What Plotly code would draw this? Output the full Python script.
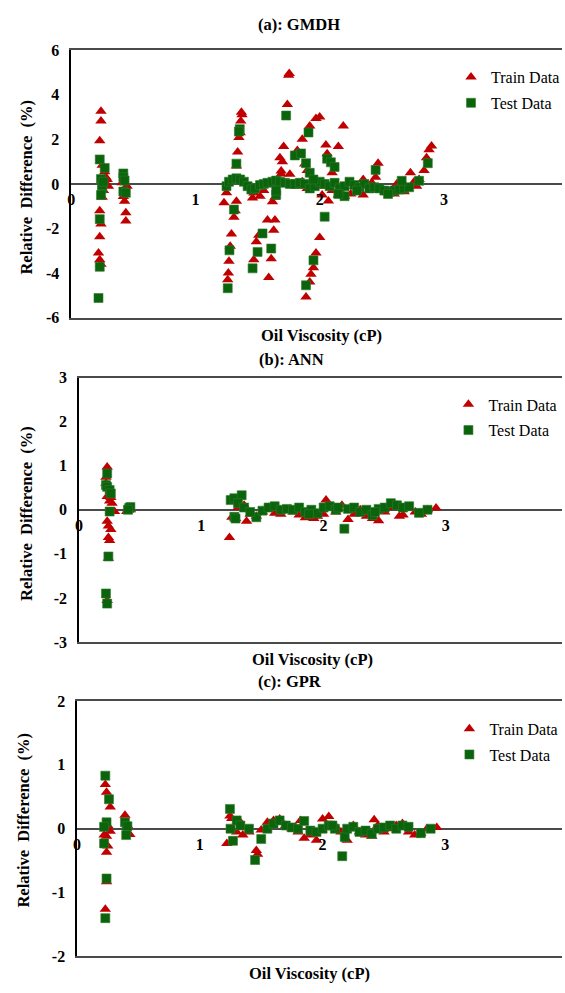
import plotly.graph_objects as go

# ---------------------------------------------------------------------------
# Relative difference (%) vs. oil viscosity (cP) for three models
# ---------------------------------------------------------------------------

# (a) GMDH
gmdh_train_x = [0.24, 0.24, 0.23, 0.25, 0.27, 0.29, 0.30, 0.26, 0.23, 0.24, 0.23, 0.22, 0.23, 0.24, 0.25, 0.28,
                0.42, 0.43, 0.44, 0.44, 0.41, 0.43, 0.45,
                1.23, 1.25, 1.26, 1.265, 1.27, 1.29, 1.31, 1.33, 1.34, 1.35, 1.365, 1.37, 1.375, 1.36, 1.33, 1.32, 1.28,
                1.46, 1.47,
                1.47, 1.49, 1.51, 1.58, 1.59, 1.61, 1.63, 1.64, 1.62, 1.64, 1.69, 1.69, 1.71, 1.68, 1.74, 1.75, 1.755,
                1.76, 1.70, 1.55, 1.52,
                1.86, 1.92, 1.97, 2.00, 1.89, 1.92, 1.93, 1.95, 1.97, 2.00, 2.05, 2.06, 2.07, 2.15, 2.19, 1.82, 1.88,
                1.90, 2.02, 2.10,
                1.78, 1.82, 1.86, 1.90, 1.95, 2.00, 2.05, 2.10, 2.15, 2.20, 2.25, 2.30, 2.35, 2.40, 2.45, 2.47, 2.50,
                2.55, 2.60, 2.65, 2.70, 2.73, 2.76, 2.80, 2.84, 2.86, 2.88, 2.90, 2.35, 2.28, 2.42, 2.62, 2.68, 2.78]
gmdh_train_y = [3.26, 2.82, 1.94, 0.84, 0.55, 0.20, -0.10, -0.30, -1.20, -1.80, -2.37, -3.10, -3.40, -3.60, -0.60, 0.30,
                -0.56, -0.78, -1.29, -1.66, 0.05, -0.20, -0.10,
                -0.85, -0.40, -4.30, -4.00, -3.47, -2.25, -1.50, -0.78, 1.43, 2.08, 2.82, 3.22, 3.10, 2.30, 0.80, -1.20,
                -2.80,
                -0.63, -0.41,
                -3.40, -2.60, -2.30, -1.62, -4.20, -3.36, -2.08, -1.62, -0.80, -0.60, 0.58, 0.45, 1.68, 1.18, 3.56, 4.88,
                4.96, 0.43, 1.00, -0.30, -0.55,
                2.00, 2.60, 2.94, 3.00, -5.07, -4.40, -4.05, -3.76, -3.10, -2.40, 1.75, 1.36, -0.77, 1.68, 2.60, 1.50,
                0.90, 0.60, -0.50, 0.50,
                0.00, -0.10, 0.10, -0.20, 0.20, -0.10, 0.00, -0.30, -0.50, -0.55, -0.45, -0.35, -0.50, -0.30, 0.30,
                0.93, -0.20, -0.40, -0.45, -0.30, -0.15, 0.50, 0.10, 0.20, 0.60, 1.17, 1.53, 1.70, 0.20, -0.10, 0.05,
                0.00, -0.35, -0.10]
gmdh_test_x = [0.23, 0.27, 0.24, 0.25, 0.24, 0.25, 0.23, 0.23, 0.22, 0.26,
               0.42, 0.42, 0.43, 0.42, 0.44,
               1.26, 1.274, 1.31, 1.33, 1.357, 1.35,
               1.25, 1.27, 1.30, 1.33, 1.36, 1.39, 1.42, 1.45, 1.48, 1.52, 1.55, 1.58, 1.62, 1.65, 1.68, 1.72, 1.76,
               1.80, 1.84, 1.88, 1.92, 1.96, 2.00, 2.04, 2.08, 2.12, 2.16, 2.20, 2.24, 2.28, 2.32, 2.36, 2.40, 2.44,
               2.48, 2.52, 2.56, 2.60, 2.64, 2.68, 2.72, 2.20, 2.15, 2.30, 2.55,
               1.46, 1.50, 1.54, 1.61, 1.65, 1.65, 1.73,
               1.80, 1.85, 1.89, 1.91, 1.89, 1.95, 2.04, 2.06, 2.09, 2.12, 1.92, 1.95,
               2.45, 2.66, 2.80, 2.87]
gmdh_test_y = [1.10, 0.72, 0.22, -0.20, -0.50, -0.05, -1.58, -3.72, -5.12, 0.10,
               0.47, 0.30, 0.15, -0.34, -0.40,
               -4.68, -2.98, -1.15, 0.91, 2.46, 2.35,
               -0.10, 0.10, 0.20, 0.25, 0.20, 0.10, -0.10, -0.25, -0.20, -0.05, 0.00, 0.05, 0.10, 0.15, 0.10, 0.05,
               0.00, 0.00, 0.05, 0.00, -0.20, -0.10, 0.10, 0.00, -0.10, 0.05, -0.20, -0.10, 0.10, -0.05, -0.15, 0.00,
               -0.20, -0.15, -0.20, -0.30, -0.35, -0.30, -0.25, -0.20, -0.15, -0.55, -0.45, -0.30, -0.45,
               -3.79, -3.05, -2.22, -2.90, -0.48, -0.30, 3.07,
               1.28, 1.37, 0.93, 2.31, -4.55, -3.43, -1.47, 1.13, 0.97, 0.76, 0.50, 0.20,
               0.63, 0.14, 0.14, 0.93]

# (b) ANN
ann_train_x = [0.23, 0.22, 0.23, 0.25, 0.26, 0.29, 0.23, 0.24, 0.26, 0.24, 0.25, 0.24, 0.23, 0.22, 0.27,
               0.39, 0.42, 0.40,
               1.23, 1.37, 1.25, 1.28, 1.30, 1.35, 1.40, 1.45, 1.50, 1.55, 1.60, 1.65, 1.70, 1.75, 1.80, 1.85, 1.90,
               1.95, 2.02, 2.05, 2.10, 2.15, 2.20, 2.25, 2.30, 2.35, 2.40, 2.45, 2.50, 2.55, 2.60, 2.65, 2.70, 2.75,
               2.80, 2.85, 2.92, 2.00, 1.92, 2.38, 2.62]
ann_train_y = [0.97, 0.74, 0.30, 0.20, 0.28, -0.04, -0.26, -0.37, -0.45, -0.63, -0.70, -1.10, -2.06, 0.60, 0.15,
               -0.04, 0.00, 0.02,
               -0.63, -0.26, -0.17, -0.20, 0.05, 0.10, -0.10, -0.15, -0.05, 0.05, -0.08, -0.10, 0.00, -0.05, -0.12,
               -0.18, -0.10, -0.15, 0.22, 0.05, -0.05, 0.10, -0.22, -0.10, 0.00, -0.15, -0.20, -0.25, -0.05, 0.05,
               0.10, -0.12, 0.05, -0.05, -0.10, 0.00, 0.04, -0.10, -0.20, -0.05, -0.15]
ann_test_x = [0.23, 0.22, 0.23, 0.25, 0.26, 0.25, 0.24, 0.22, 0.23,
              0.41, 0.42, 0.40,
              1.24, 1.27, 1.33, 1.30, 1.27, 1.28, 1.45, 1.35, 1.40, 1.50, 1.55, 1.60, 1.65, 1.70, 1.75, 1.80, 1.85,
              1.90, 1.95, 2.00, 2.05, 2.10, 2.17, 2.20, 2.25, 2.30, 2.35, 2.40, 2.45, 2.50, 2.55, 2.60, 2.65, 2.70,
              2.78, 2.85, 1.88, 2.42, 2.12]
ann_test_y = [0.82, 0.56, 0.52, 0.45, 0.37, -0.04, -1.06, -1.90, -2.13,
              0.04, 0.06, 0.00,
              0.22, 0.26, 0.33, 0.15, -0.16, -0.20, -0.17, 0.05, -0.05, -0.02, 0.05, 0.08, 0.00, 0.02, 0.00, 0.05,
              -0.05, 0.00, -0.08, 0.05, 0.08, 0.00, -0.43, 0.02, 0.05, -0.05, 0.00, -0.12, 0.02, 0.05, 0.15, 0.10,
              0.05, 0.08, -0.07, 0.00, -0.10, -0.05, 0.05]

# (c) GPR
gpr_train_x = [0.23, 0.24, 0.27, 0.27, 0.24, 0.25, 0.24, 0.24, 0.23, 0.22, 0.23, 0.25,
               0.39, 0.43, 0.41,
               1.245, 1.26, 1.22, 1.32, 1.46, 1.47, 1.30, 1.35, 1.40, 1.50, 1.55, 1.60, 1.65, 1.70, 1.75, 1.80, 1.82,
               1.85, 1.90, 1.95, 2.00, 2.05, 2.10, 2.15, 2.20, 2.25, 2.30, 2.35, 2.40, 2.42, 2.45, 2.50, 2.55, 2.60,
               2.65, 2.70, 2.75, 2.80, 2.85, 2.93]
gpr_train_y = [0.69, 0.57, 0.34, -0.04, -0.12, -0.27, -0.37, -0.83, -1.26, -0.10, 0.00, 0.05,
               0.21, -0.09, 0.05,
               0.20, 0.16, -0.23, 0.13, -0.34, -0.40, -0.05, -0.10, -0.05, -0.02, 0.10, 0.13, 0.15, 0.05, 0.00, -0.05,
               0.13, -0.15, -0.10, -0.18, 0.15, 0.19, 0.05, -0.05, -0.18, 0.05, -0.05, -0.10, -0.12, 0.14, 0.05,
               -0.05, 0.00, 0.05, 0.08, -0.05, -0.10, -0.07, 0.00, 0.02]
gpr_test_x = [0.23, 0.26, 0.24, 0.22, 0.22, 0.24, 0.23,
              0.39, 0.41, 0.40,
              1.245, 1.27, 1.25, 1.30, 1.33, 1.45, 1.50, 1.55, 1.60, 1.65, 1.70, 1.75, 1.80, 1.85, 1.90, 1.95, 2.00,
              2.05, 2.10, 2.16, 2.18, 2.20, 2.25, 2.30, 2.35, 2.40, 2.45, 2.50, 2.55, 2.60, 2.65, 2.70, 2.80, 2.88,
              1.40, 2.08]
gpr_test_y = [0.83, 0.46, 0.10, 0.03, -0.23, -0.78, -1.40,
              0.10, 0.04, -0.10,
              0.31, -0.19, 0.00, 0.13, 0.05, -0.49, -0.16, 0.00, 0.08, 0.13, 0.05, 0.02, 0.00, 0.12, -0.03, -0.05,
              0.00, 0.05, 0.00, -0.43, -0.13, 0.00, 0.03, -0.05, -0.03, -0.08, 0.00, 0.02, 0.05, 0.00, 0.05, 0.03,
              -0.07, 0.00, 0.00, 0.05]

panel_titles = ["(a): GMDH", "(b): ANN", "(c): GPR"]
y_tick_values = [[-6, -4, -2, 0, 2, 4, 6], [-3, -2, -1, 0, 1, 2, 3], [-2, -1, 0, 1, 2]]
x_ticks = [0, 1, 2, 3]
x_title = "Oil Viscosity (cP)"
y_title = "Relative  Difference  (%)"
series_names = ["Train Data", "Test Data"]

# ---------------------------------------------------------------------------
# Page geometry (pixels, origin top-left)
# ---------------------------------------------------------------------------
W, H = 565, 993
X_MAX = 3.95
SERIF = "Liberation Serif"
FS = 16.5
RED = "#C00000"
GREEN = "#0B640B"
FRAME = "#4a4a4a"

# left edge, top, bottom of each plotting area; title / axis-title / legend anchors
boxes = [
    dict(left=68, top=43, bottom=315, title=(299, 17), xt=(321, 333), yt=(23, 182), leg=(453, 53)),
    dict(left=76, top=376, bottom=645, title=(291, 358), xt=(312, 663), yt=(22, 514), leg=(450, 386)),
    dict(left=74, top=705, bottom=965, title=(290, 685), xt=(309, 982), yt=(20, 826), leg=(451, 716)),
]


def px(x):
    return x / W


def py(y):
    return 1 - y / H


series = [
    (gmdh_train_x, gmdh_train_y, gmdh_test_x, gmdh_test_y),
    (ann_train_x, ann_train_y, ann_test_x, ann_test_y),
    (gpr_train_x, gpr_train_y, gpr_test_x, gpr_test_y),
]

fig = go.Figure()
annotations = []
layout = {}
bold = lambda v: f"<b>{v}</b>"

for i, (box, (trx, tr_y, tex, te_y)) in enumerate(zip(boxes, series)):
    n = "" if i == 0 else str(i + 1)
    xa, ya = "x" + n, "y" + n
    xl = "x" + str(i + 4)          # overlay x axis that carries the tick labels on the zero line
    leg = "legend" + n

    fig.add_trace(go.Scatter(
        x=trx, y=tr_y, mode="markers", name=series_names[0], xaxis=xa, yaxis=ya,
        legend=leg, legendgroup=f"tr{i}",
        marker=dict(symbol="triangle-up", size=10, color=RED, line=dict(width=0)),
    ))
    fig.add_trace(go.Scatter(
        x=tex, y=te_y, mode="markers", name=series_names[1], xaxis=xl, yaxis=ya,
        legend=leg, legendgroup=f"te{i}",
        marker=dict(symbol="square", size=9, color=GREEN, line=dict(width=0.6, color="#2f7a2f")),
    ))

    yt = y_tick_values[i]
    zero_y = (box["top"] + box["bottom"]) / 2
    domain_x = [px(box["left"]), 1]

    # frame axis: bottom line, mirrored to the top
    layout["xaxis" + n] = dict(
        domain=domain_x, range=[0, X_MAX], anchor=ya, showgrid=False, zeroline=False,
        showline=True, mirror=True, linecolor=FRAME, linewidth=2,
        ticks="", showticklabels=False,
    )
    # label axis sitting on y = 0
    layout["xaxis" + str(i + 4)] = dict(
        overlaying=xa, domain=domain_x, range=[0, X_MAX], anchor="free", position=py(zero_y),
        tickvals=x_ticks, ticktext=[bold(v) for v in x_ticks],
        showgrid=False, zeroline=False, showline=False, ticks="", ticklabelstandoff=4,
        tickfont=dict(family=SERIF, size=16, color="black"),
    )
    layout["yaxis" + n] = dict(
        domain=[py(box["bottom"]), py(box["top"])], range=[yt[0], yt[-1]],
        tickvals=yt, ticktext=[bold(v) for v in yt],
        anchor=xa, showgrid=False, showline=True, linecolor="black", linewidth=1.5,
        zeroline=True, zerolinecolor=FRAME, zerolinewidth=2,
        ticks="", ticklabelstandoff=7,
        tickfont=dict(family=SERIF, size=16, color="black"),
    )
    layout[leg] = dict(
        x=px(box["leg"][0]), y=py(box["leg"][1]), xanchor="left", yanchor="top",
        bgcolor="rgba(0,0,0,0)", borderwidth=0, traceorder="grouped", tracegroupgap=2,
        font=dict(family=SERIF, size=16, color="black"), itemwidth=30,
    )

    common = dict(xref="paper", yref="paper", showarrow=False, xanchor="center", yanchor="middle",
                  font=dict(family=SERIF, size=FS, color="black"))
    annotations.append(dict(text=bold(panel_titles[i]), x=px(box["title"][0]), y=py(box["title"][1]), **common))
    annotations.append(dict(text=bold(x_title), x=px(box["xt"][0]), y=py(box["xt"][1]), **common))
    annotations.append(dict(text=bold(y_title), x=px(box["yt"][0]), y=py(box["yt"][1]), textangle=-90,
                            **common))

fig.update_layout(
    width=W, height=H, autosize=False,
    margin=dict(l=0, r=0, t=0, b=0),
    paper_bgcolor="white", plot_bgcolor="white",
    font=dict(family=SERIF, color="black"),
    annotations=annotations,
    **layout,
)

fig.write_html("out.html")
